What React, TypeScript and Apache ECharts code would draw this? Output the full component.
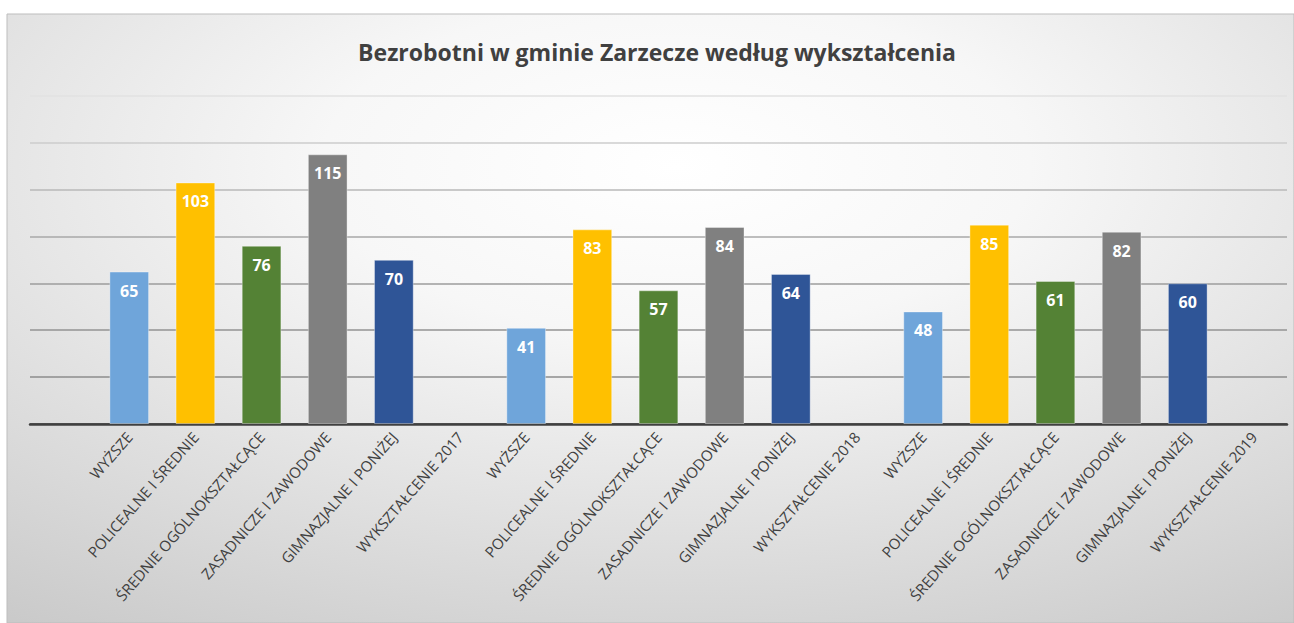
import React, { useEffect, useRef } from "react";
import * as echarts from "echarts";

const TITLE = "Bezrobotni w gminie Zarzecze według wykształcenia";

const categories = [
  "",
  "WYŻSZE", "POLICEALNE I ŚREDNIE", "ŚREDNIE OGÓLNOKSZTAŁCĄCE", "ZASADNICZE I ZAWODOWE", "GIMNAZJALNE I PONIŻEJ", "WYKSZTAŁCENIE 2017",
  "WYŻSZE", "POLICEALNE I ŚREDNIE", "ŚREDNIE OGÓLNOKSZTAŁCĄCE", "ZASADNICZE I ZAWODOWE", "GIMNAZJALNE I PONIŻEJ", "WYKSZTAŁCENIE 2018",
  "WYŻSZE", "POLICEALNE I ŚREDNIE", "ŚREDNIE OGÓLNOKSZTAŁCĄCE", "ZASADNICZE I ZAWODOWE", "GIMNAZJALNE I PONIŻEJ", "WYKSZTAŁCENIE 2019",
];

const values: (number | null)[] = [
  null,
  65, 103, 76, 115, 70, null,
  41, 83, 57, 84, 64, null,
  48, 85, 61, 82, 60, null,
];

const palette = ["#6FA5DA", "#FFC000", "#548235", "#808080", "#2F5597"];

const gridColors = ["#404040", "#8c8c8c", "#939393", "#9c9c9c", "#a9a9a9", "#b9b9b9", "#cdcdcd", "#e2e2e2"];

export default function App() {
  const ref = useRef<HTMLDivElement>(null);
  useEffect(() => {
    if (!ref.current) return;
    const chart = echarts.init(ref.current, null, { renderer: "svg" });
    const data = values.map((v, i) => ({
      value: v,
      itemStyle: { color: palette[(i - 1 + 6) % 6] || palette[0] },
    }));
    chart.setOption({
      animation: false,
      graphic: [
        {
          type: "rect",
          shape: { x: 7, y: 14, width: 1287, height: 609 },
          style: {
            fill: new echarts.graphic.RadialGradient(0.52, 0.25, 1.1, [
              { offset: 0, color: "#ffffff" },
              { offset: 0.25, color: "#f7f7f7" },
              { offset: 1, color: "#bcbcbc" },
            ]),
            stroke: "#bdbdbd",
            lineWidth: 1,
          },
          z: -10,
          silent: true,
        },
        {
          type: "text",
          x: 657,
          y: 52,
          style: {
            text: TITLE,
            font: "bold 23px 'Open Sans'",
            fill: "#404040",
            align: "center",
            verticalAlign: "middle",
          },
        },
      ],
      grid: { left: 30, right: 7, top: 95.7, bottom: 199 },
      xAxis: {
        type: "category",
        data: categories,
        axisLine: { show: true, lineStyle: { color: "#404040", width: 2.5 } },
        axisTick: { show: false },
        axisLabel: {
          interval: 0,
          rotate: 49,
          margin: 10,
          color: "#404040",
          fontFamily: "Open Sans",
          fontSize: 15,
        },
        splitLine: { show: false },
      },
      yAxis: {
        type: "value",
        min: 0,
        max: 140,
        interval: 20,
        axisLabel: { show: false },
        axisLine: { show: false },
        axisTick: { show: false },
        splitLine: { show: true, lineStyle: { color: gridColors, width: 1.5 } },
      },
      series: [
        {
          type: "bar",
          data,
          barWidth: "60%",
          itemStyle: { borderColor: "rgba(255,255,255,0.35)", borderWidth: 1 },
          label: {
            show: true,
            position: "insideTop",
            distance: 11,
            color: "#ffffff",
            fontFamily: "Open Sans",
            fontWeight: "bold",
            fontSize: 16,
            formatter: (p: any) => (p.value == null ? "" : String(p.value)),
          },
        },
      ],
    });
    return () => chart.dispose();
  }, []);
  return (
    <div
      ref={ref}
      style={{ position: "absolute", left: 0, top: 0, width: 1294, height: 623 }}
    />
  );
}
